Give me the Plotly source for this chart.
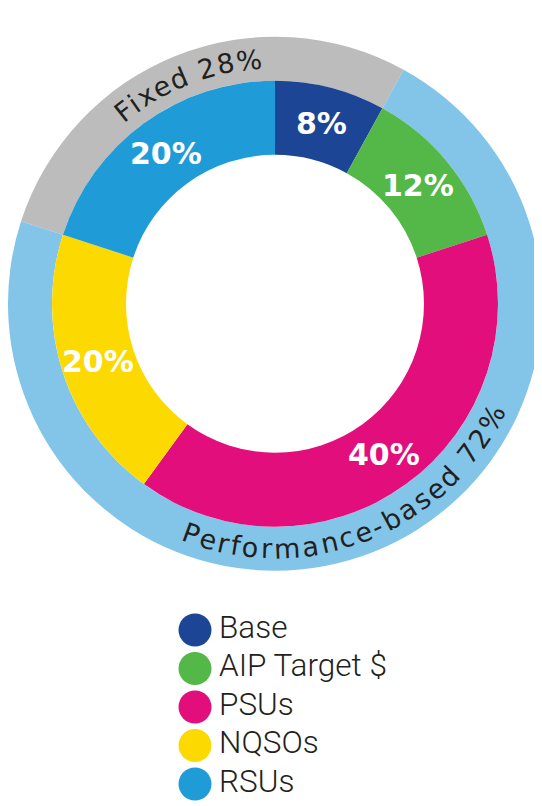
import math

import plotly.graph_objects as go

# ── Dados ─────────────────────────────────────────────────────────────────────
COMPONENTS = ["Base", "AIP Target $", "PSUs", "NQSOs", "RSUs"]
SHARES = [8, 12, 40, 20, 20]
COMP_COLORS = ["#1c4596", "#53b848", "#e10e7b", "#fbd901", "#1f9cd7"]

GROUPS = ["Fixed", "Performance-based"]
GROUP_SHARES = [28, 72]
GROUP_COLORS = ["#bcbcbc", "#82c5e8"]

# ── Geometria (px de tela; a página tem 8 px de margem no body) ───────────────
OFF = 8
FW, FH = 542 - OFF, 806 - OFF
CX, CY = 275, 303.7
R_OUT, R_MID, R_HOLE = 267, 223, 149

LEG_X, LEG_TEXT_X = 195, 219
LEG_Y0, LEG_Y1 = 630, 784

LABEL_FONT = "DejaVu Sans"
DARK = "#231f20"

# larguras aproximadas (em) do DejaVu Sans, para o texto curvo
CHAR_W = {
    " ": 0.318, "%": 0.950, "-": 0.361, "2": 0.636, "7": 0.636, "8": 0.636,
    "F": 0.575, "P": 0.603, "a": 0.613, "b": 0.635, "c": 0.550, "d": 0.635,
    "e": 0.615, "f": 0.352, "i": 0.278, "m": 0.974, "n": 0.634, "o": 0.612,
    "r": 0.411, "s": 0.521, "x": 0.592,
}


def _paper(sx, sy):
    return (sx - OFF) / FW, 1 - (sy - OFF) / FH


def _domain(r):
    x0, y1 = _paper(CX - r, CY - r)
    x1, y0 = _paper(CX + r, CY + r)
    return dict(x=[max(x0, 0), min(x1, 1)], y=[max(y0, 0), min(y1, 1)])


def _polar(theta_deg, r):
    t = math.radians(theta_deg)
    return _paper(CX + r * math.sin(t), CY - r * math.cos(t))


def arc_text(text, theta_c, r, size, track, top=True):
    """Uma anotação por caractere ao longo do arco."""
    widths = [CHAR_W.get(ch, 0.6) * size for ch in text]
    total = sum(widths) + track * (len(text) - 1)
    pos = -total / 2
    out = []
    for ch, w in zip(text, widths):
        mid = pos + w / 2
        pos += w + track
        if ch == " ":
            continue
        d = math.degrees(mid / r)
        theta = theta_c + d if top else theta_c - d
        x, y = _polar(theta, r)
        out.append(dict(
            x=x, y=y, xref="paper", yref="paper", text=ch, showarrow=False,
            textangle=theta if top else theta - 180,
            xanchor="center", yanchor="middle",
            font=dict(family=LABEL_FONT, size=size, color=DARK),
        ))
    return out


total = sum(SHARES)
rot_out = -SHARES[-1] / total * 360  # Fixed começa no início de RSUs

fig = go.Figure()
fig.add_trace(go.Pie(
    labels=GROUPS, values=GROUP_SHARES, sort=False, direction="clockwise",
    rotation=rot_out, hole=R_MID / R_OUT, domain=_domain(R_OUT),
    marker=dict(colors=GROUP_COLORS, line=dict(width=0)),
    textinfo="none", hoverinfo="label+percent", showlegend=False,
))
fig.add_trace(go.Pie(
    labels=COMPONENTS, values=SHARES, sort=False, direction="clockwise",
    rotation=0, hole=R_HOLE / R_MID, domain=_domain(R_MID),
    marker=dict(colors=COMP_COLORS, line=dict(width=0)),
    textinfo="none", hoverinfo="label+percent", showlegend=False,
))

# legenda desenhada como scatter (marcadores + textos)
fig.add_trace(go.Scatter(
    x=[LEG_X] * len(COMPONENTS), y=COMPONENTS, mode="markers",
    marker=dict(size=33, color=COMP_COLORS),
    showlegend=False, hoverinfo="skip",
))
fig.add_trace(go.Scatter(
    x=[LEG_TEXT_X] * len(COMPONENTS), y=COMPONENTS, mode="text",
    text=COMPONENTS, textposition="middle right",
    textfont=dict(family="Roboto", size=31.5, color=DARK, weight=300),
    showlegend=False, hoverinfo="skip",
))

annotations = []
# rótulos percentuais no meio de cada fatia
r_lab = (R_MID + R_HOLE) / 2
cum = 0
for v in SHARES:
    x, y = _polar((cum + v / 2) / total * 360, r_lab)
    cum += v
    annotations.append(dict(
        x=x, y=y, xref="paper", yref="paper", text=f"{v}%", showarrow=False,
        xanchor="center", yanchor="middle",
        font=dict(family=LABEL_FONT, size=30, color="white", weight="bold"),
    ))

# rótulos curvos do anel externo
r_ring = (R_OUT + R_MID) / 2
start = rot_out
for g, v, top in zip(GROUPS, GROUP_SHARES, [True, False]):
    mid = start + v / 2 / sum(GROUP_SHARES) * 360
    start += v / sum(GROUP_SHARES) * 360
    annotations += arc_text(f"{g} {v}%", mid, r_ring, 27, 2.0, top)

# eixo y da legenda: categoria i (0 = última) na altura certa da tela
n = len(COMPONENTS)
_, p_top = _paper(0, LEG_Y0)
_, p_bot = _paper(0, LEG_Y1)
k = (p_top - p_bot) / (n - 1)          # papel por categoria
d1 = min(1.0, p_top + k / 2)
y_range = [(n - 1) - p_top / k, (n - 1) + (d1 - p_top) / k]

fig.update_layout(
    width=FW, height=FH,
    margin=dict(l=0, r=0, t=0, b=0),
    paper_bgcolor="white", plot_bgcolor="rgba(0,0,0,0)",
    xaxis=dict(range=[OFF, OFF + FW], domain=[0, 1], visible=False,
               fixedrange=True),
    yaxis=dict(
        domain=[0, d1], visible=False, fixedrange=True,
        categoryorder="array", categoryarray=COMPONENTS[::-1],
        range=y_range,
    ),
    annotations=annotations,
    showlegend=False,
)

fig.write_html("out.html")
